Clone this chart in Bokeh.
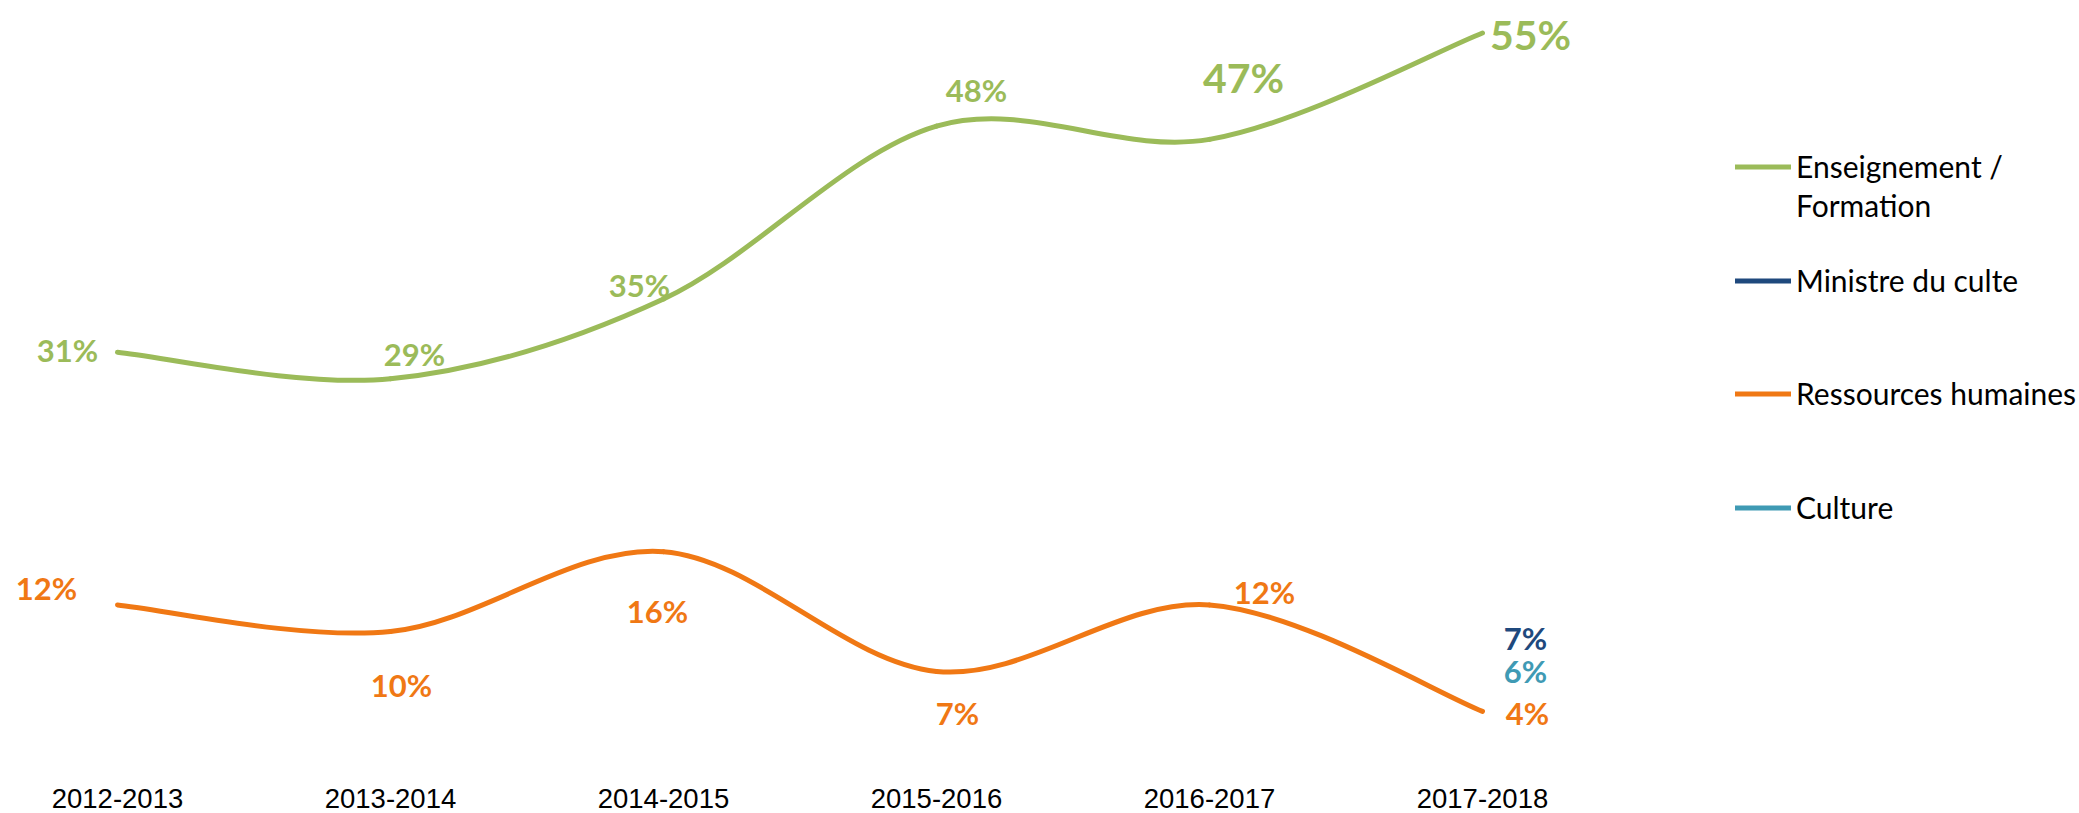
from bokeh.plotting import figure
from bokeh.models import Range1d, FixedTicker, Legend, LegendItem
from bokeh.core.properties import value
from bokeh.embed import file_html
from bokeh.resources import INLINE

# ---------------- data ----------------
categories = ["2012-2013", "2013-2014", "2014-2015", "2015-2016", "2016-2017", "2017-2018"]
enseignement = [31, 29, 35, 48, 47, 55]
ressources = [12, 10, 16, 7, 12, 4]
ministre_cat = ["2017-2018"]
ministre = [7]
culture_cat = ["2017-2018"]
culture = [6]

# ---------------- styling ----------------
GREEN = "#9BBB59"
ORANGE = "#F07814"
NAVY = "#1F497D"
TEAL = "#3F9AB4"
LABEL_FONT = value("Lato")

# label offsets (px) per point: (dx, dy, size)
ens_label_style = [(-50, -2, "31px"), (24, -25, "31px"), (-24, -14, "31px"),
                   (40, -36, "31px"), (34, -62, "41px"), (48, 1, "41px")]
res_label_style = [(-71, -17, "31px"), (11, 53, "31px"), (-6, 59, "31px"),
                   (21, 42, "31px"), (55, -13, "31px"), (45, 2, "31px")]

W, H = 2079, 813
BOTTOM = 40
px_per_cat = 273.0
x0 = -117.0 / px_per_cat
x1 = x0 + W / px_per_cat
px_per_pct = 13.3
base = 764.0
y_top = base / px_per_pct
y_bot = (base - (H - BOTTOM)) / px_per_pct

p = figure(width=W, height=H, output_backend="svg", toolbar_location=None,
           x_range=Range1d(x0, x1), y_range=Range1d(y_bot, y_top),
           y_axis_location=None, min_border_left=0, min_border_right=0,
           min_border_top=0, min_border_bottom=BOTTOM)
p.grid.visible = False
p.outline_line_color = None
p.background_fill_color = "white"
p.border_fill_color = "white"

ax = p.xaxis[0]
ax.ticker = FixedTicker(ticks=list(range(len(categories))))
ax.major_label_overrides = {i: c for i, c in enumerate(categories)}
ax.axis_line_color = None
ax.major_tick_line_color = None
ax.minor_tick_line_color = None
ax.major_label_text_font = "Liberation Sans"
ax.major_label_text_font_size = "27.5px"
ax.major_label_text_color = "#000000"
ax.major_label_standoff = 9


def smooth(xs, ys, t=1.0 / 6.0):
    """Catmull-Rom style Bezier segments (like a smoothed line)."""
    n = len(xs)
    out = dict(x0=[], y0=[], x1=[], y1=[], cx0=[], cy0=[], cx1=[], cy1=[])
    for i in range(n - 1):
        im = max(i - 1, 0)
        ip = min(i + 2, n - 1)
        out["x0"].append(xs[i]); out["y0"].append(ys[i])
        out["x1"].append(xs[i + 1]); out["y1"].append(ys[i + 1])
        out["cx0"].append(xs[i] + (xs[i + 1] - xs[im]) * t)
        out["cy0"].append(ys[i] + (ys[i + 1] - ys[im]) * t)
        out["cx1"].append(xs[i + 1] - (xs[ip] - xs[i]) * t)
        out["cy1"].append(ys[i + 1] - (ys[ip] - ys[i]) * t)
    return out


xi = list(range(len(categories)))

r_ens = p.bezier(source=smooth(xi, enseignement), x0="x0", y0="y0", x1="x1", y1="y1",
                 cx0="cx0", cy0="cy0", cx1="cx1", cy1="cy1",
                 line_color=GREEN, line_width=5, line_cap="round")
r_res = p.bezier(source=smooth(xi, ressources), x0="x0", y0="y0", x1="x1", y1="y1",
                 cx0="cx0", cy0="cy0", cx1="cx1", cy1="cy1",
                 line_color=ORANGE, line_width=5, line_cap="round")
mx = [categories.index(c) for c in ministre_cat]
cx = [categories.index(c) for c in culture_cat]
r_min = p.line(x=mx, y=ministre, line_color=NAVY, line_width=5, line_cap="round")
r_cul = p.line(x=cx, y=culture, line_color=TEAL, line_width=5, line_cap="round")
r_blank = p.line(x=xi[-1:], y=enseignement[-1:], line_alpha=0, line_width=5)


def labels(xs, ys, style, color):
    for x, y, (dx, dy, size) in zip(xs, ys, style):
        p.text(x=[x], y=[y], text=[f"{y}%"], x_offset=dx, y_offset=dy,
               text_align="center", text_baseline="middle",
               text_font=LABEL_FONT, text_font_style="bold",
               text_font_size=size, text_color=color)


labels(xi, enseignement, ens_label_style, GREEN)
labels(xi, ressources, res_label_style, ORANGE)
labels(mx, ministre, [(43, -33, "31px")], NAVY)
labels(cx, culture, [(43, -14, "31px")], TEAL)

# ---------------- legends ----------------
FRAME_H = H - BOTTOM
LX = 1735


def add_legend(items, center_page_y):
    n = len(items)
    item_h = 39
    top = center_page_y - item_h / 2
    bottom_up = FRAME_H - (top + n * item_h)
    lg = Legend(items=items, location=(LX, bottom_up), orientation="vertical",
                label_text_font="Lato", label_text_font_size="30px",
                label_text_color="#000000", label_height=item_h, glyph_height=item_h,
                glyph_width=56, label_standoff=5, spacing=0, padding=0, margin=0,
                border_line_color=None, background_fill_alpha=0)
    p.add_layout(lg, "center")


add_legend([LegendItem(label="Enseignement /", renderers=[r_ens]),
            LegendItem(label="Formation", renderers=[r_blank])], 166)
add_legend([LegendItem(label="Ministre du culte", renderers=[r_min])], 280)
add_legend([LegendItem(label="Ressources humaines", renderers=[r_res])], 393)
add_legend([LegendItem(label="Culture", renderers=[r_cul])], 507)

open("out.html", "w").write(file_html(p, INLINE))
